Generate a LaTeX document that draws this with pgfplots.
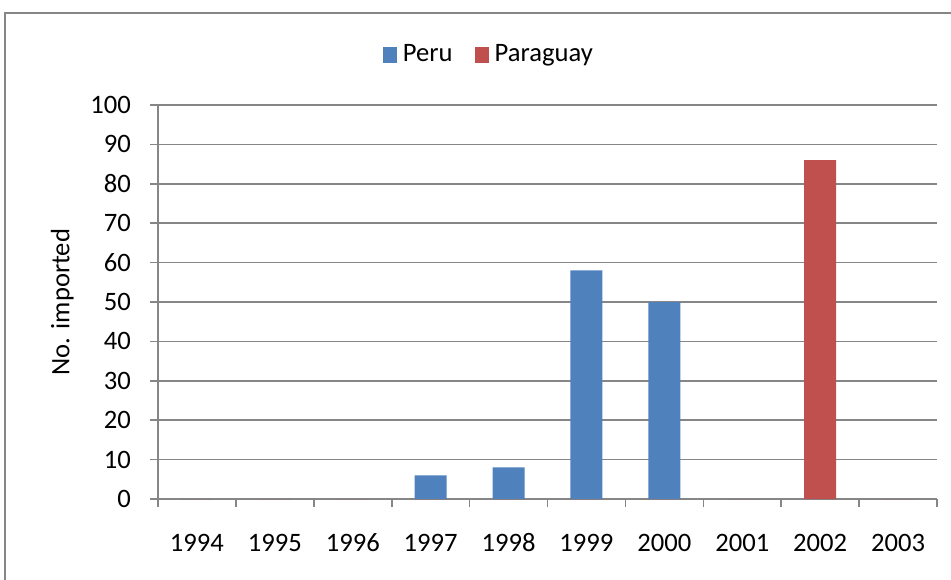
\documentclass[border=0pt]{standalone}
\usepackage{pgfplots}
\pgfplotsset{compat=1.18}
\usepackage{fontspec}
\setmainfont{Carlito}
\definecolor{peru}{HTML}{4F81BD}
\definecolor{para}{HTML}{C0504D}
\definecolor{gridc}{HTML}{868686}
\begin{document}
\begin{tikzpicture}[font=\fontsize{13.3}{16}\selectfont]
\path[use as bounding box] (0,0) rectangle (475.5pt,289.5pt);
\draw[gridc, line width=0.8pt] (2.5pt,-2pt) -- (2.5pt,283pt) -- (478pt,283pt);
\begin{axis}[
  at={(79pt,40pt)}, anchor=south west,
  scale only axis, width=389.5pt, height=197pt,
  xmin=-0.5, xmax=9.5, ymin=0, ymax=100,
  ybar, bar width=16pt, bar shift=0pt,
  axis x line*=bottom, axis y line*=left,
  axis line style={gridc, line width=0.8pt},
  xtick={0,...,9},
  xticklabels={1994,1995,1996,1997,1998,1999,2000,2001,2002,2003},
  major x tick style={draw=none},
  minor xtick={-0.5,0.5,...,9.5},
  minor x tick style={gridc, line width=0.8pt},
  minor tick length=4pt,
  major tick length=4pt,
  tick align=outside,
  ytick={0,10,...,100},
  major y tick style={gridc, line width=0.8pt},
  ymajorgrids, grid style={gridc, line width=0.8pt},
  /pgf/number format/assume math mode=true,
  xticklabel style={anchor=base, yshift=-22pt},
  yticklabel style={xshift=-6pt},
  ylabel={No. imported},
  ylabel style={at={(axis description cs:-0.123,0.5)}, anchor=center},
  legend columns=2,
  legend style={draw=none, at={(0.426,1.127)}, anchor=center, fill=none,
    /tikz/every even column/.append style={column sep=9pt}},
  legend image code/.code={\fill[#1] (0pt,-4pt) rectangle (7pt,4pt); \path (8pt,0pt);},
]
\addplot[fill=peru, draw=none] coordinates {(0,0) (1,0) (2,0) (3,6) (4,8) (5,58) (6,50) (7,0) (8,0) (9,0)};
\addplot[fill=para, draw=none] coordinates {(0,0) (1,0) (2,0) (3,0) (4,0) (5,0) (6,0) (7,0) (8,86) (9,0)};
\legend{Peru, Paraguay}
\end{axis}
\end{tikzpicture}
\end{document}
